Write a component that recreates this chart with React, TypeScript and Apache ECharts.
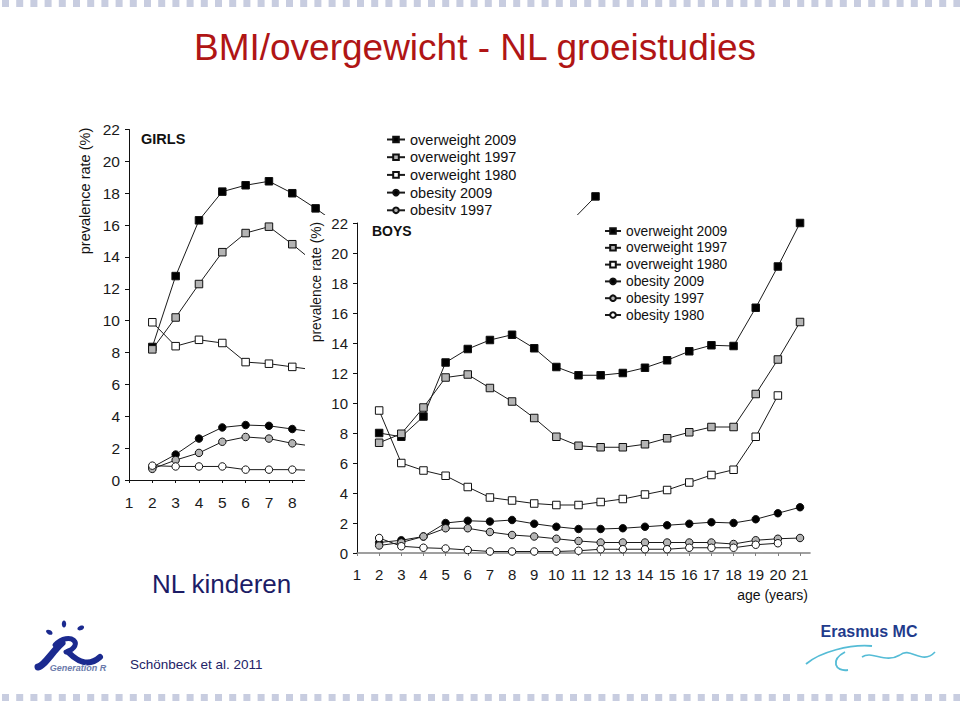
import React, { useEffect, useRef } from 'react';
import * as echarts from 'echarts';

const FONT = '"Liberation Sans", Arial, Helvetica, sans-serif';

// x-axis tick labels (age in years)
const AGES = [1, 2, 3, 4, 5, 6, 7, 8, 9, 10, 11, 12, 13, 14, 15, 16, 17, 18, 19, 20, 21];
// girls' tick labels that are not covered by the boys panel
const GIRLS_VISIBLE_AGES = [1, 2, 3, 4, 5, 6, 7, 8];
// ages at which data are given
const DATA_AGES = [2, 3, 4, 5, 6, 7, 8, 9, 10, 11, 12, 13, 14, 15, 16, 17, 18, 19, 20, 21];

const SERIES_NAMES = ['overweight 2009', 'overweight 1997', 'overweight 1980', 'obesity 2009', 'obesity 1997', 'obesity 1980'];

// GIRLS (partly hidden behind the BOYS panel in the original)
const GIRLS_OW_2009 = [8.35, 12.8, 16.3, 18.1, 18.5, 18.75, 18.0, 17.05, 16.0, null, null, null, null, null, null, null, null, null, 16.3, 17.8];
const GIRLS_OW_1997 = [8.2, 10.2, 12.3, 14.3, 15.5, 15.9, 14.8, 13.6];
const GIRLS_OW_1980 = [9.9, 8.4, 8.8, 8.6, 7.4, 7.3, 7.1, 6.9];
const GIRLS_OB_2009 = [0.8, 1.6, 2.6, 3.3, 3.45, 3.4, 3.2, 3.0];
const GIRLS_OB_1997 = [0.7, 1.25, 1.7, 2.4, 2.7, 2.6, 2.3, 2.1];
const GIRLS_OB_1980 = [0.9, 0.85, 0.85, 0.85, 0.65, 0.65, 0.65, 0.6];

// BOYS
const BOYS_OW_2009 = [8.0, 7.75, 9.1, 12.7, 13.6, 14.2, 14.55, 13.65, 12.4, 11.85, 11.85, 12.0, 12.35, 12.85, 13.45, 13.85, 13.8, 16.35, 19.1, 22.0];
const BOYS_OW_1997 = [7.35, 7.95, 9.7, 11.7, 11.9, 11.0, 10.1, 9.0, 7.75, 7.15, 7.05, 7.05, 7.25, 7.65, 8.05, 8.4, 8.4, 10.6, 12.9, 15.4];
const BOYS_OW_1980 = [9.5, 6.0, 5.5, 5.15, 4.4, 3.7, 3.5, 3.3, 3.2, 3.2, 3.4, 3.6, 3.9, 4.2, 4.7, 5.2, 5.55, 7.75, 10.5];
const BOYS_OB_2009 = [0.7, 0.85, 1.1, 2.0, 2.15, 2.1, 2.2, 1.95, 1.75, 1.6, 1.6, 1.65, 1.75, 1.85, 1.95, 2.05, 2.0, 2.25, 2.65, 3.05];
const BOYS_OB_1997 = [0.5, 0.7, 1.1, 1.65, 1.65, 1.4, 1.2, 1.1, 0.95, 0.8, 0.7, 0.7, 0.7, 0.7, 0.7, 0.7, 0.6, 0.85, 0.95, 1.0];
const BOYS_OB_1980 = [1.0, 0.45, 0.35, 0.3, 0.2, 0.1, 0.1, 0.1, 0.1, 0.15, 0.25, 0.25, 0.25, 0.25, 0.35, 0.35, 0.35, 0.55, 0.65];

const Y_MIN = 0;
const Y_MAX = 22;
const Y_STEP = 2;

const SYMBOLS = ['rect', 'rect', 'rect', 'circle', 'circle', 'circle'];
const FILLS = ['#000000', '#b4b4b4', '#ffffff', '#000000', '#b4b4b4', '#ffffff'];

function pairs(vals: (number | null)[]) {
  return vals.map((v, i) => [DATA_AGES[i], v]);
}

function makeSeries(sets: (number | null)[][]) {
  return sets.map((vals, i) => ({
    name: SERIES_NAMES[i],
    type: 'line',
    data: pairs(vals),
    symbol: SYMBOLS[i],
    symbolSize: 7.5,
    showSymbol: true,
    connectNulls: false,
    lineStyle: { color: '#1a1a1a', width: 1 },
    itemStyle: { color: FILLS[i], borderColor: '#111', borderWidth: 1 },
    emphasis: { disabled: true },
    z: 3 + (i < 3 ? 1 : 0),
  }));
}

function axes(axisColor: string, fontSize: number, xMargin: number, labelAges: number[]) {
  return {
    xAxis: {
      type: 'value',
      min: 1,
      max: 21.45,
      axisLine: { show: true, lineStyle: { color: axisColor, width: 1 } },
      axisTick: { show: true, length: 3, lineStyle: { color: axisColor }, customValues: AGES },
      axisLabel: { customValues: labelAges, fontSize, color: '#1a1a1a', fontFamily: FONT, margin: xMargin },
      splitLine: { show: false },
    },
    yAxis: {
      type: 'value',
      min: Y_MIN,
      max: Y_MAX,
      interval: Y_STEP,
      axisLine: { show: true, lineStyle: { color: '#111', width: 1 } },
      axisTick: { show: true, length: 4, lineStyle: { color: '#111' } },
      axisLabel: { fontSize, color: '#1a1a1a', fontFamily: FONT, margin: 9 },
      splitLine: { show: false },
    },
  };
}

function dottedBars() {
  const els: any[] = [];
  for (let i = 0; i < 68; i++) {
    els.push({ type: 'rect', shape: { x: 2 + i * 14.2, y: 0, width: 7, height: 7 }, style: { fill: '#c8cde0' }, silent: true });
    els.push({ type: 'rect', shape: { x: 2 + i * 14.2, y: 694, width: 7, height: 7 }, style: { fill: '#c8cde0' }, silent: true });
  }
  return els;
}

function slideGraphics() {
  const navy = '#1b2a8f';
  return [
    ...dottedBars(),
    {
      type: 'text', x: 475, y: 47,
      style: { text: 'BMI/overgewicht - NL groeistudies', fill: '#b01515', font: `37px ${FONT}`, align: 'center', verticalAlign: 'middle' },
    },
    {
      type: 'text', x: 152, y: 584,
      style: { text: 'NL kinderen', fill: '#1c1c66', font: `26px ${FONT}`, align: 'left', verticalAlign: 'middle' },
    },
    {
      type: 'text', x: 130, y: 664,
      style: { text: 'Schönbeck et al. 2011', fill: '#222266', font: `13.5px ${FONT}`, align: 'left', verticalAlign: 'middle' },
    },
    // Generation R logo (approximation)
    { type: 'ellipse', shape: { cx: 49, cy: 632, rx: 3.5, ry: 2.2 }, rotation: -0.5, originX: 49, originY: 632, style: { fill: navy } },
    { type: 'ellipse', shape: { cx: 64, cy: 624, rx: 2.2, ry: 3.5 }, style: { fill: navy } },
    { type: 'ellipse', shape: { cx: 81, cy: 628, rx: 3.5, ry: 2.2 }, rotation: 0.4, originX: 81, originY: 628, style: { fill: navy } },
    { type: 'bezierCurve', shape: { x1: 38, y1: 667, x2: 62, y2: 643, cpx1: 44, cpy1: 666, cpx2: 52, cpy2: 652 }, style: { stroke: navy, lineWidth: 7, lineCap: 'round', fill: 'none' } },
    { type: 'bezierCurve', shape: { x1: 55, y1: 645, x2: 66, y2: 652, cpx1: 70, cpy1: 630, cpx2: 86, cpy2: 645 }, style: { stroke: navy, lineWidth: 5, lineCap: 'round', fill: 'none' } },
    { type: 'bezierCurve', shape: { x1: 68, y1: 652, x2: 100, y2: 657, cpx1: 80, cpy1: 664, cpx2: 90, cpy2: 666 }, style: { stroke: navy, lineWidth: 6, lineCap: 'round', fill: 'none' } },
    {
      type: 'text', x: 78, y: 668,
      style: { text: 'Generation R', fill: '#6b7bab', font: `italic bold 9px ${FONT}`, align: 'center', verticalAlign: 'middle' },
    },
    // Erasmus MC logo (approximation)
    {
      type: 'text', x: 869, y: 631,
      style: { text: 'Erasmus MC', fill: '#1f3b8c', font: `bold 16px ${FONT}`, align: 'center', verticalAlign: 'middle' },
    },
    { type: 'bezierCurve', shape: { x1: 806, y1: 664, x2: 872, y2: 646, cpx1: 820, cpy1: 652, cpx2: 850, cpy2: 644 }, style: { stroke: '#55bcd6', lineWidth: 1.8, fill: 'none' } },
    { type: 'bezierCurve', shape: { x1: 845, y1: 652, x2: 848, y2: 670, cpx1: 830, cpy1: 660, cpx2: 835, cpy2: 672 }, style: { stroke: '#55bcd6', lineWidth: 1.8, fill: 'none' } },
    { type: 'bezierCurve', shape: { x1: 862, y1: 657, x2: 900, y2: 655, cpx1: 872, cpy1: 650, cpx2: 885, cpy2: 664 }, style: { stroke: '#55bcd6', lineWidth: 1.6, fill: 'none' } },
    { type: 'bezierCurve', shape: { x1: 900, y1: 655, x2: 935, y2: 652, cpx1: 910, cpy1: 646, cpx2: 922, cpy2: 666 }, style: { stroke: '#55bcd6', lineWidth: 1.6, fill: 'none' } },
    // GIRLS texts
    {
      type: 'text', x: 141, y: 139,
      style: { text: 'GIRLS', fill: '#111', font: `bold 14.5px ${FONT}`, align: 'left', verticalAlign: 'middle' },
    },
    {
      type: 'text', x: 85, y: 191, rotation: Math.PI / 2,
      style: { text: 'prevalence rate (%)', fill: '#111', font: `14.5px ${FONT}`, align: 'center', verticalAlign: 'middle' },
    },
  ];
}

export default function App() {
  const baseRef = useRef<HTMLDivElement>(null);
  const boysRef = useRef<HTMLDivElement>(null);

  useEffect(() => {
    if (!baseRef.current || !boysRef.current) return;
    const base = echarts.init(baseRef.current, undefined, { renderer: 'svg' });
    const boys = echarts.init(boysRef.current, undefined, { renderer: 'svg' });

    const gAxes = axes('#111', 15.5, 14, GIRLS_VISIBLE_AGES);
    base.setOption({
      animation: false,
      backgroundColor: '#ffffff',
      grid: { left: 129, top: 129.5, width: 477, height: 350.5, outerBoundsMode: 'none' },
      xAxis: gAxes.xAxis,
      yAxis: gAxes.yAxis,
      legend: {
        show: true,
        orient: 'vertical',
        left: 386,
        top: 132,
        padding: 0,
        itemWidth: 18,
        itemHeight: 7,
        itemGap: 2.7,
        selectedMode: false,
        textStyle: { fontSize: 14.5, lineHeight: 14, color: '#111', fontFamily: FONT },
        data: SERIES_NAMES,
      },
      series: makeSeries([GIRLS_OW_2009, GIRLS_OW_1997, GIRLS_OW_1980, GIRLS_OB_2009, GIRLS_OB_1997, GIRLS_OB_1980]),
      graphic: slideGraphics(),
    });

    const bAxes = axes('#808080', 15, 14, AGES);
    boys.setOption({
      animation: false,
      backgroundColor: '#ffffff',
      grid: { left: 52, top: 8, width: 453, height: 330, outerBoundsMode: 'none' },
      xAxis: { ...bAxes.xAxis, axisLine: { show: true, lineStyle: { color: '#808080', width: 1.6 } } },
      yAxis: bAxes.yAxis,
      legend: {
        show: true,
        orient: 'vertical',
        left: 299,
        top: 9,
        padding: 0,
        itemWidth: 16,
        itemHeight: 7,
        itemGap: 2.8,
        selectedMode: false,
        textStyle: { fontSize: 13.8, lineHeight: 14, color: '#111', fontFamily: FONT },
        data: SERIES_NAMES,
      },
      series: makeSeries([BOYS_OW_2009, BOYS_OW_1997, BOYS_OW_1980, BOYS_OB_2009, BOYS_OB_1997, BOYS_OB_1980]),
      graphic: [
        {
          type: 'text', x: 67, y: 16,
          style: { text: 'BOYS', fill: '#111', font: `bold 14px ${FONT}`, align: 'left', verticalAlign: 'middle' },
        },
        {
          type: 'text', x: 11, y: 67, rotation: Math.PI / 2,
          style: { text: 'prevalence rate (%)', fill: '#111', font: `13.8px ${FONT}`, align: 'center', verticalAlign: 'middle' },
        },
        {
          type: 'text', x: 503, y: 380,
          style: { text: 'age (years)', fill: '#111', font: `14px ${FONT}`, align: 'right', verticalAlign: 'middle' },
        },
      ],
    });

    return () => {
      base.dispose();
      boys.dispose();
    };
  }, []);

  return (
    <div style={{ position: 'fixed', left: 0, top: 0, width: 960, height: 705, background: '#fff' }}>
      <div ref={baseRef} style={{ position: 'absolute', left: 0, top: 0, width: 960, height: 705 }} />
      <div ref={boysRef} style={{ position: 'absolute', left: 305, top: 215, width: 510, height: 395, background: '#fff', zIndex: 1 }} />
    </div>
  );
}
